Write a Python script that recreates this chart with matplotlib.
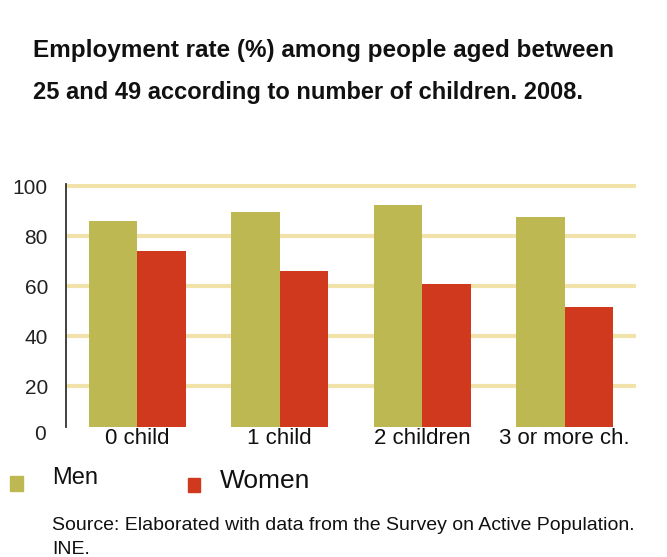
import matplotlib

matplotlib.use("Agg")
import matplotlib.pyplot as plt
import matplotlib.transforms as mtransforms
import numpy as np

CATEGORIES = ["0 child", "1 child", "2 children", "3 or more ch."]
MEN = [86, 89.5, 92.5, 87.5]
WOMEN = [74, 66, 61, 51.5]
Y_TICKS = [20, 40, 60, 80, 100]

MEN_COLOR = "#BEB853"
WOMEN_COLOR = "#D1391F"
GRID_COLOR = "#F1E2AA"
TEXT_COLOR = "#111111"

W, H = 667, 557

plt.rcParams["font.family"] = ["Liberation Sans", "DejaVu Sans"]

fig = plt.figure(figsize=(W / 100, H / 100), dpi=100)
ax = fig.add_axes([66 / W, 1 - 427 / H, 570 / W, 243 / H])

x = np.arange(len(CATEGORIES))
width = 0.34
ax.bar(x - width / 2, MEN, width, color=MEN_COLOR, zorder=3)
ax.bar(x + width / 2, WOMEN, width, color=WOMEN_COLOR, zorder=3)

ax.set_xlim(-0.5, 3.5)
ax.set_ylim(3.6, 100.8)
ax.set_yticks(Y_TICKS)
ax.set_yticklabels([str(t) for t in Y_TICKS], fontsize=15, color="#222222")
ax.tick_params(axis="y", length=0, pad=13)
ax.set_xticks(x)
ax.set_xticklabels(CATEGORIES, fontsize=16, color=TEXT_COLOR)
ax.tick_params(axis="x", length=0, pad=1)
for t in Y_TICKS:
    ax.axhline(t, color=GRID_COLOR, linewidth=3, zorder=1)

# the zero label sits below the plot area
trans = mtransforms.blended_transform_factory(fig.transFigure, ax.transData)
ax.text(46 / W, 0.5, "0", transform=trans, ha="right", va="center",
        fontsize=15, color="#222222", clip_on=False)

for side in ("top", "right", "bottom"):
    ax.spines[side].set_visible(False)
ax.spines["left"].set_color("#333333")
ax.spines["left"].set_linewidth(1.3)

fig.text(33 / W, 1 - 50 / H, "Employment rate (%) among people aged between",
         fontsize=17.5, fontweight="bold", va="center", color=TEXT_COLOR)
fig.text(33 / W, 1 - 92 / H, "25 and 49 according to number of children. 2008.",
         fontsize=17, fontweight="bold", va="center", color=TEXT_COLOR)

# legend
fig.patches.append(plt.Rectangle((10 / W, 1 - 491 / H), 13 / W, 15 / H,
                                 transform=fig.transFigure, color=MEN_COLOR))
fig.text(52 / W, 1 - 484 / H, "Men", fontsize=17, va="baseline", color=TEXT_COLOR)
fig.patches.append(plt.Rectangle((188 / W, 1 - 492 / H), 12 / W, 14 / H,
                                 transform=fig.transFigure, color=WOMEN_COLOR))
fig.text(220 / W, 1 - 488 / H, "Women", fontsize=19, va="baseline", color=TEXT_COLOR)

fig.text(52 / W, 1 - 530 / H,
         "Source: Elaborated with data from the Survey on Active Population.",
         fontsize=14, va="baseline", color=TEXT_COLOR)
fig.text(52 / W, 1 - 554 / H, "INE.", fontsize=14, va="baseline", color=TEXT_COLOR)

fig.savefig("out.png", dpi=100)
